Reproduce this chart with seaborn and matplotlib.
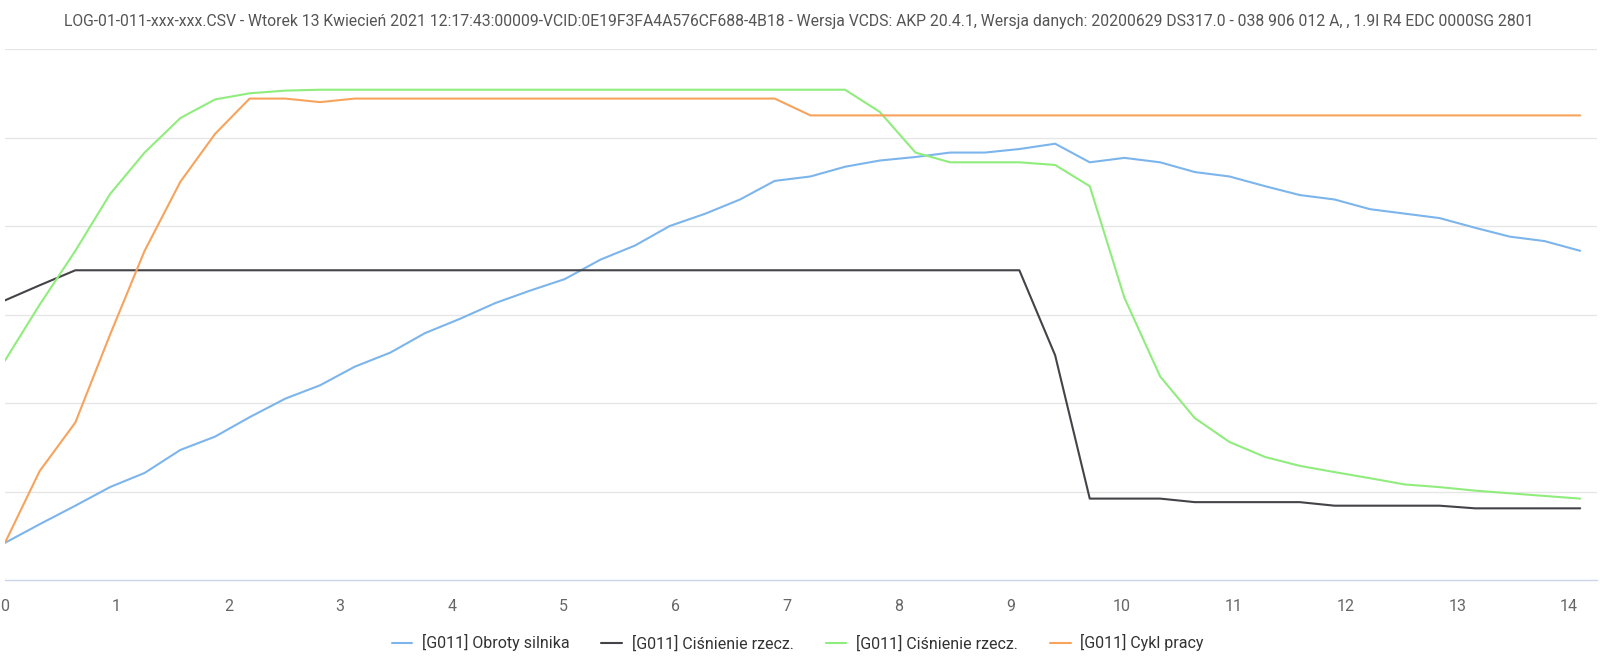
import pandas as pd
import matplotlib.pyplot as plt
import seaborn as sns

# time stamps of the log samples (s)
czas = [0.00, 0.31, 0.63, 0.94, 1.25, 1.57, 1.88, 2.19, 2.51, 2.82,
        3.13, 3.45, 3.76, 4.07, 4.39, 4.70, 5.01, 5.33, 5.64, 5.95,
        6.27, 6.58, 6.89, 7.21, 7.52, 7.83, 8.15, 8.46, 8.77, 9.08,
        9.40, 9.71, 10.02, 10.34, 10.65, 10.96, 11.28, 11.59, 11.90, 12.22,
        12.53, 12.84, 13.16, 13.47, 13.78, 14.10]

# values (relative chart units, gridline every 100)
obroty = [42, 63, 84, 105, 121, 147, 162, 184, 205, 220,
          241, 257, 279, 295, 313, 327, 340, 362, 378, 400,
          414, 430, 451, 456, 467, 474, 478, 483, 483, 487,
          493, 472, 477, 472, 461, 456, 445, 435, 430, 419,
          414, 409, 398, 388, 383, 372]

cisnienie_zad = [316, 333, 350, 350, 350, 350, 350, 350, 350, 350,
                 350, 350, 350, 350, 350, 350, 350, 350, 350, 350,
                 350, 350, 350, 350, 350, 350, 350, 350, 350, 350,
                 254, 92, 92, 92, 88, 88, 88, 88, 84, 84,
                 84, 84, 81, 81, 81, 81]

cisnienie_rz = [248, 311, 372, 436, 483, 522, 543, 550, 553, 554,
                554, 554, 554, 554, 554, 554, 554, 554, 554, 554,
                554, 554, 554, 554, 554, 529, 483, 472, 472, 472,
                469, 445, 319, 230, 183, 156, 139, 129, 122, 115,
                108, 105, 101, 98, 95, 92]

cykl = [42, 123, 178, 277, 372, 450, 504, 544, 544, 540,
        544, 544, 544, 544, 544, 544, 544, 544, 544, 544,
        544, 544, 544, 525, 525, 525, 525, 525, 525, 525,
        525, 525, 525, 525, 525, 525, 525, 525, 525, 525,
        525, 525, 525, 525, 525, 525]

nazwy = ["[G011] Obroty silnika", "[G011] Ciśnienie rzecz.",
         "[G011] Ciśnienie rzecz.", "[G011] Cykl pracy"]
kolory = ["#7cb5ec", "#434348", "#90ed7d", "#f7a35c"]

tytul = ("LOG-01-011-xxx-xxx.CSV - Wtorek 13 Kwiecień 2021 12:17:43:00009-VCID:0E19F3FA4A576CF688-4B18 - "
         "Wersja VCDS: AKP 20.4.1, Wersja danych: 20200629 DS317.0 - 038 906 012 A, , 1.9l R4 EDC 0000SG 2801")

sns.set_style("white")
plt.rcParams["font.family"] = ["Roboto", "DejaVu Sans"]

fig = plt.figure(figsize=(16, 6.67), dpi=100)
ax = fig.add_axes([0.0031, 0.1304, 0.995, 0.7961])

serie = [obroty, cisnienie_zad, cisnienie_rz, cykl]
for wartosci, nazwa, kolor in zip(serie, nazwy, kolory):
    df = pd.DataFrame({"czas": czas, "wartosc": wartosci})
    sns.lineplot(data=df, x="czas", y="wartosc", ax=ax, color=kolor,
                 linewidth=1.5, label=nazwa, legend=False)

ax.set_xlim(0, 14.25)
ax.set_ylim(0, 600)
ax.set_xticks(range(0, 15))
ax.set_yticks([100, 200, 300, 400, 500, 600])
ax.set_yticklabels([])
ax.tick_params(axis="y", length=0)
ax.tick_params(axis="x", length=10, width=1, color="#ccd6eb",
               labelsize=11.5, labelcolor="#666666", pad=4)
ax.grid(axis="y", color="#e6e6e6", linewidth=1)
ax.set_axisbelow(True)
ax.set_xlabel("")
ax.set_ylabel("")
for s in ["top", "left", "right"]:
    ax.spines[s].set_visible(False)
ax.spines["bottom"].set_color("#ccd6eb")
ax.spines["bottom"].set_linewidth(1)

fig.text(0.499, 0.968, tytul, ha="center", va="center",
         fontsize=11.35, color="#555555")

handles, labels = ax.get_legend_handles_labels()
fig.legend(handles, labels, loc="center", bbox_to_anchor=(0.4985, 0.036),
           ncol=4, frameon=False, fontsize=11.5, handlelength=1.3,
           columnspacing=2.0, handletextpad=0.6, labelcolor="#333333")

fig.savefig("out.png", dpi=100)
